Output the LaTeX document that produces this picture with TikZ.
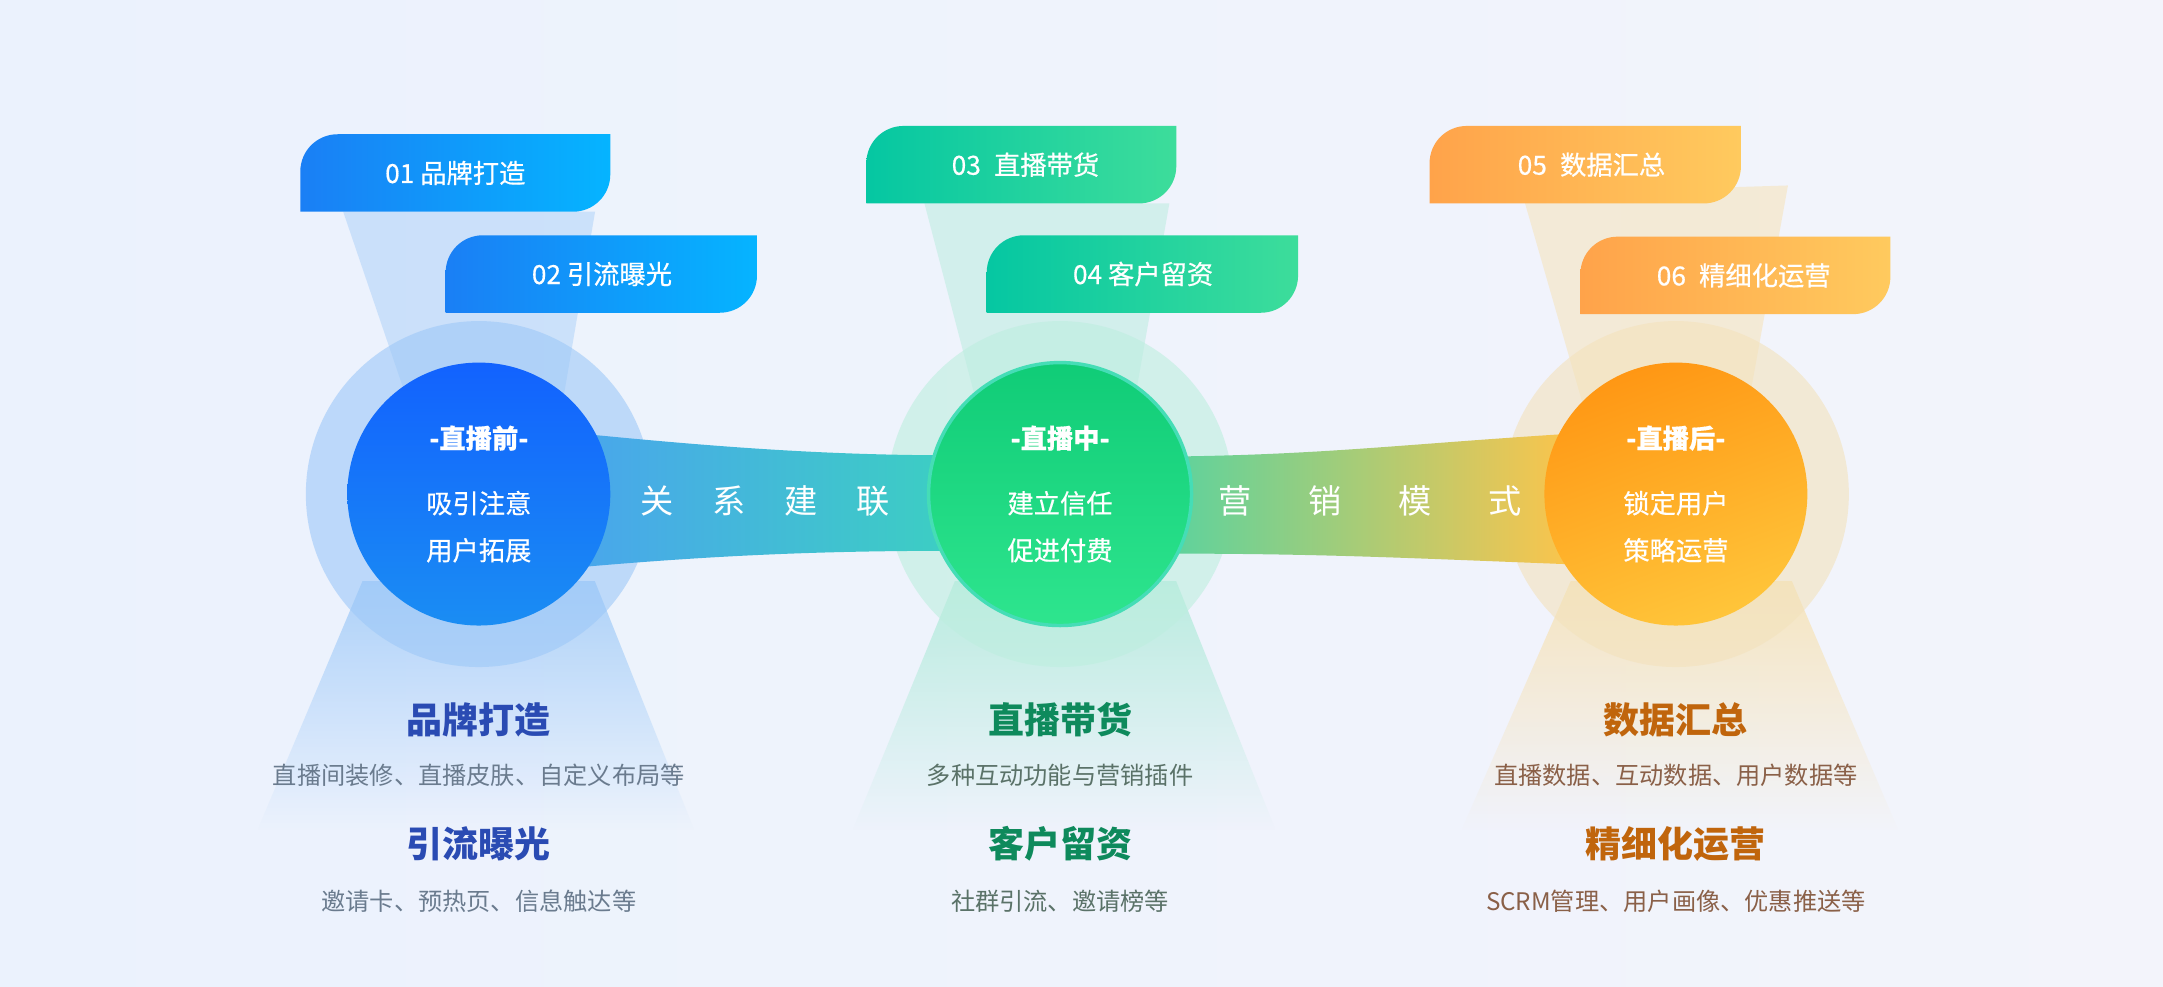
\documentclass[tikz,border=0pt]{standalone}
\usepackage{fontspec}
\setmainfont{Noto Sans CJK SC}
\newfontfamily\medfont[FakeBold=0.5]{Noto Sans CJK SC}
\usetikzlibrary{calc,fadings}
\definecolor{bgL}{HTML}{EBF2FD}
\definecolor{bgM}{HTML}{F1F8FC}
\definecolor{bgR}{HTML}{F3F4FB}
\definecolor{blueBeam}{HTML}{8CC0F7}
\definecolor{greenBeam}{HTML}{9EE8D0}
\definecolor{orangeBeam}{HTML}{F8DDA0}
\definecolor{blueHalo}{HTML}{9DC8F8}
\definecolor{greenHalo}{HTML}{BDEEDF}
\definecolor{orangeHalo}{HTML}{F3E2BC}
\definecolor{tabBL}{HTML}{1A7FF5}
\definecolor{tabBR}{HTML}{05B4FF}
\definecolor{tabGL}{HTML}{05C7A2}
\definecolor{tabGR}{HTML}{3DDD9B}
\definecolor{tabOL}{HTML}{FFA34A}
\definecolor{tabOR}{HTML}{FFCA5E}
\definecolor{cBT}{HTML}{1262FE}
\definecolor{cBB}{HTML}{1A8DF3}
\definecolor{cGT}{HTML}{10CC77}
\definecolor{cGB}{HTML}{2EE58E}
\definecolor{cGE}{HTML}{45DDB6}
\definecolor{cOT}{HTML}{FF9714}
\definecolor{cOB}{HTML}{FFC53A}
\definecolor{bandA}{HTML}{4AA4EE}
\definecolor{bandB}{HTML}{40B9DA}
\definecolor{bandC}{HTML}{3CCFC2}
\definecolor{bandD}{HTML}{58D3A0}
\definecolor{bandE}{HTML}{B8C976}
\definecolor{bandF}{HTML}{FFC44A}
\definecolor{titB}{HTML}{2A4BB3}
\definecolor{titG}{HTML}{0E8A5C}
\definecolor{titO}{HTML}{C0650C}
\definecolor{subB}{HTML}{6A7B8E}
\definecolor{subG}{HTML}{5A7268}
\definecolor{subO}{HTML}{8A6048}
\tikzfading[name=fadedown, top color=transparent!0, middle color=transparent!55, bottom color=transparent!100]
\newcommand\tabpath[4]{(#1,#4) -- (#1,{#2+27}) .. controls (#1,{#2+12}) and ({#1+12},#2) .. ({#1+27},#2) -- (#3,#2) -- (#3,{#4-27}) .. controls (#3,{#4-12}) and ({#3-12},#4) .. ({#3-27},#4) -- cycle}
\begin{document}
\begin{tikzpicture}[x=1pt,y=-1pt,
  tabtext/.style={text=white,font=\medfont\fontsize{19}{22}\selectfont,inner sep=0pt},
  stage/.style={circle,minimum size=190pt,inner sep=0pt,text=white,align=center,
    font=\medfont\fontsize{19}{34}\selectfont},
  bandtext/.style={text=white,font=\fontsize{24}{28}\selectfont,inner sep=0pt},
  title/.style={font=\fontsize{26}{30}\selectfont\bfseries,inner sep=0pt},
  sub/.style={font=\fontsize{17.5}{20}\selectfont,inner sep=0pt}]
\useasboundingbox (0,0) rectangle (1563,713);
\shade[left color=bgL,middle color=bgM,right color=bgR] (0,0) rectangle (1563,713);
\coordinate (p1) at (346,357);
\coordinate (p2) at (766,357);
\coordinate (p3) at (1211,357);
% beams
\fill[blueBeam,fill opacity=0.35] (248,153) -- (430,153) -- (405,300) -- (298,300) -- cycle;
\fill[blueBeam,fill opacity=0.65,path fading=fadedown] (262,420) -- (430,420) -- (502,600) -- (186,600) -- cycle;
\fill[greenBeam,fill opacity=0.35] (668,147) -- (845,147) -- (818,300) -- (708,300) -- cycle;
\fill[greenBeam,fill opacity=0.65,path fading=fadedown] (690,420) -- (850,420) -- (922,600) -- (616,600) -- cycle;
\fill[orangeBeam,fill opacity=0.4] (1100,140) -- (1292,134) -- (1262,300) -- (1146,300) -- cycle;
\fill[orangeBeam,fill opacity=0.65,path fading=fadedown] (1135,420) -- (1295,420) -- (1372,600) -- (1056,600) -- cycle;
% halos
\fill[blueHalo,fill opacity=0.6] (p1) circle[radius=125pt];
\fill[greenHalo,fill opacity=0.6] (p2) circle[radius=125pt];
\fill[orangeHalo,fill opacity=0.6] (p3) circle[radius=125pt];
% bands
\shade[left color=bandA,middle color=bandB,right color=bandC]
  ($(p1)+(60,-45)$) .. controls ($(p1)+(170,-34)$) and ($(p2)+(-170,-28)$) .. ($(p2)+(-76,-28)$)
  -- ($(p2)+(-76,41)$) .. controls ($(p2)+(-170,41)$) and ($(p1)+(170,44)$) .. ($(p1)+(60,54)$) -- cycle;
\shade[left color=bandD,middle color=bandE,right color=bandF]
  ($(p2)+(70,-27)$) .. controls ($(p2)+(190,-28)$) and ($(p3)+(-200,-36)$) .. ($(p3)+(-70,-44)$)
  -- ($(p3)+(-70,51)$) .. controls ($(p3)+(-200,46)$) and ($(p2)+(190,43)$) .. ($(p2)+(70,43)$) -- cycle;
\node[bandtext] (r1) at (553,362) {关\hspace{28pt}系\hspace{28pt}建\hspace{28pt}联};
\node[bandtext] (r2) at (990,362) {营\hspace{41pt}销\hspace{41pt}模\hspace{41pt}式};
% stage circles
\node[stage,top color=cBT,bottom color=cBB] (c1) at (p1) {\textbf{-直播前-}\\[13pt]吸引注意\\用户拓展};
\node[stage,top color=cGT,bottom color=cGB,draw=cGE,line width=2.5pt] (c2) at (p2) {\textbf{-直播中-}\\[13pt]建立信任\\促进付费};
\node[stage,top color=cOT,bottom color=cOB,shading angle=20] (c3) at (p3) {\textbf{-直播后-}\\[13pt]锁定用户\\策略运营};
% tabs
\shade[left color=tabBL,right color=tabBR] \tabpath{217}{97}{441}{153};
\node[tabtext] (t1) at (329,125) {01 品牌打造};
\shade[left color=tabBL,right color=tabBR] \tabpath{322}{170}{547}{226};
\node[tabtext] (t2) at (435,198) {02 引流曝光};
\shade[left color=tabGL,right color=tabGR] \tabpath{626}{91}{850}{147};
\node[tabtext] (t3) at (741,119) {03\hspace{0.5em}直播带货};
\shade[left color=tabGL,right color=tabGR] \tabpath{713}{170}{938}{226};
\node[tabtext] (t4) at (826,198) {04 客户留资};
\shade[left color=tabOL,right color=tabOR] \tabpath{1033}{91}{1258}{147};
\node[tabtext] (t5) at (1150,119) {05\hspace{0.5em}数据汇总};
\shade[left color=tabOL,right color=tabOR] \tabpath{1142}{171}{1366}{227};
\node[tabtext] (t6) at (1260,199) {06\hspace{0.5em}精细化运营};
% bottom texts
\node[title,text=titB] (b1) at (346,520) {品牌打造};
\node[sub,text=subB] (s1) at (346,560) {直播间装修、直播皮肤、自定义布局等};
\node[title,text=titB] (b2) at (346,610) {引流曝光};
\node[sub,text=subB] (s2) at (346,651) {邀请卡、预热页、信息触达等};
\node[title,text=titG] (b3) at (766,520) {直播带货};
\node[sub,text=subG] (s3) at (766,560) {多种互动功能与营销插件};
\node[title,text=titG] (b4) at (766,610) {客户留资};
\node[sub,text=subG] (s4) at (766,651) {社群引流、邀请榜等};
\node[title,text=titO] (b5) at (1211,520) {数据汇总};
\node[sub,text=subO] (s5) at (1211,560) {直播数据、互动数据、用户数据等};
\node[title,text=titO] (b6) at (1211,610) {精细化运营};
\node[sub,text=subO] (s6) at (1211,651) {SCRM管理、用户画像、优惠推送等};
\end{tikzpicture}
\end{document}
